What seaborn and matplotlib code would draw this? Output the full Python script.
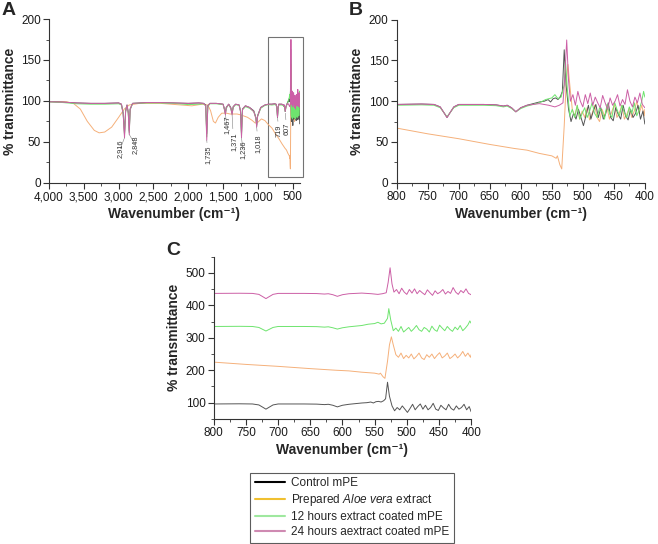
import matplotlib
matplotlib.use("Agg")
import matplotlib.pyplot as plt
import matplotlib.ticker as ticker
from matplotlib.patches import Rectangle
from matplotlib.lines import Line2D
import seaborn as sns
import numpy as np

#
# 01. Dados
#
# Região 4000-850 cm-1 (mPE: controle, 12 h, 24 h)
wn_alto = [4000, 3800, 3600, 3400, 3200, 3000, 2960, 2935, 2916, 2900, 2880,
           2862, 2848, 2835, 2800, 2600, 2400, 2200, 2000, 1850, 1780, 1750,
           1735, 1720, 1690, 1600, 1500, 1480, 1467, 1455, 1420, 1390, 1371,
           1355, 1320, 1270, 1250, 1236, 1222, 1180, 1120, 1060, 1030, 1018,
           1005, 960, 900, 850]
t_controle_alto = [99, 98.5, 97.5, 97, 97, 97.5, 96, 85, 60, 88, 95, 86, 63, 90,
                   97, 98, 98, 97.5, 97, 97.5, 97, 95, 60, 94, 97, 97, 96, 90,
                   85, 92, 96, 92, 85, 93, 96, 95, 88, 60, 90, 94, 92, 88, 80,
                   71, 82, 92, 95, 96]
t_12h_alto = [99, 98, 96.5, 96, 96, 96.5, 95, 84, 58, 87, 94, 85, 61, 89, 97,
              97.5, 97.5, 97, 95.5, 96, 96.5, 94, 56, 93, 96.5, 96.5, 95.5, 89,
              84, 91, 95.5, 91, 84, 92, 95.5, 94.5, 87, 57, 89, 93, 91, 87, 79,
              69, 81, 91, 94.5, 95.5]
t_24h_alto = [99, 98.5, 97.5, 97, 97, 97.5, 96, 84, 55, 87, 95, 85, 59, 90, 97,
              98, 98, 97.5, 97, 97.5, 97, 94, 52, 94, 97, 97, 96, 89, 83, 92,
              96, 91, 83, 93, 96, 95, 87, 55, 90, 94, 92, 87, 79, 68, 81, 92,
              95, 96]

# Extrato de Aloe vera, 4000-850 cm-1
wn_aloe_alto = [4000, 3750, 3650, 3550, 3450, 3350, 3280, 3200, 3100, 3000,
                2920, 2850, 2700, 2400, 2100, 1950, 1800, 1720, 1680, 1640,
                1610, 1570, 1520, 1450, 1400, 1300, 1250, 1150, 1080, 1040,
                1000, 950, 900, 850]
t_aloe_alto = [99, 99, 97, 90, 75, 64, 61, 62, 68, 80, 90, 95, 97, 97, 95, 94,
               96, 95, 88, 75, 73, 80, 85, 85, 84, 84, 83, 80, 76, 73, 74, 78,
               76, 71]

# Região 800-400 cm-1
wn_controle = [800, 760, 740, 730, 724, 719, 714, 708, 700, 660, 640, 628, 622,
               615, 608, 600, 590, 580, 570, 562, 556, 552, 548, 544, 540, 536,
               533, 530, 527, 523, 519, 515, 511, 507, 503, 499, 495, 491, 487,
               483, 479, 475, 471, 467, 463, 459, 455, 451, 447, 443, 439, 435,
               431, 427, 423, 419, 415, 411, 407, 403, 400]
t_controle = [96, 96.5, 96, 93, 86, 80, 86, 93, 96, 96, 95.5, 94, 95, 92, 87,
              92, 95, 97, 99, 100, 102, 99, 103, 104, 102, 106, 112, 163, 120,
              90, 75, 85, 78, 90, 80, 70, 82, 95, 78, 88, 96, 80, 92, 78, 85, 98,
              80, 76, 92, 84, 78, 95, 82, 77, 90, 80, 85, 95, 78, 88, 72]

wn_12h = [800, 760, 740, 730, 724, 719, 714, 708, 700, 660, 640, 628, 622, 615,
          608, 600, 590, 580, 570, 560, 550, 545, 540, 535, 530, 528, 525, 521,
          517, 513, 509, 505, 501, 497, 493, 489, 485, 481, 477, 473, 469, 465,
          461, 457, 453, 449, 445, 441, 437, 433, 429, 425, 421, 417, 413, 409,
          405, 402, 400]
t_12h = [95, 95.5, 95, 92, 86, 81, 86, 92, 95, 95, 94.5, 93, 94, 91, 87, 91, 94,
         96, 98, 102, 104, 108, 103, 105, 120, 150, 115, 82, 90, 80, 95, 78, 85,
         92, 80, 88, 98, 85, 80, 92, 87, 78, 96, 85, 80, 99, 90, 82, 95, 86, 80,
         93, 85, 98, 82, 90, 100, 112, 105]

wn_24h = [800, 760, 740, 730, 724, 719, 714, 708, 700, 660, 640, 628, 622, 615,
          608, 600, 590, 570, 555, 545, 538, 532, 529, 526, 523, 520, 516, 512,
          508, 504, 500, 496, 492, 488, 484, 480, 476, 472, 468, 464, 460, 456,
          452, 448, 444, 440, 436, 432, 428, 424, 420, 416, 412, 408, 404, 400]
t_24h = [96, 96.5, 96, 93, 86, 80, 86, 93, 96, 96, 95.5, 94, 95, 92, 87, 92,
         95, 97, 95, 93, 95, 98, 130, 175, 125, 100, 108, 95, 112, 100, 93, 108,
         97, 110, 95, 105, 98, 92, 107, 98, 90, 104, 95, 100, 108, 94, 102, 96,
         114, 100, 93, 105, 98, 110, 96, 92]

wn_aloe = [800, 750, 700, 650, 610, 590, 570, 550, 543, 541, 537, 534, 530, 527,
           524, 521, 517, 513, 509, 505, 501, 497, 493, 489, 485, 481, 477, 473,
           469, 465, 461, 457, 453, 449, 445, 441, 437, 433, 429, 425, 421, 417,
           413, 409, 405, 401, 400]
t_aloe = [67, 60, 54, 47, 42, 40, 36, 33, 30, 33, 22, 17, 70, 120, 145, 120, 90,
          82, 95, 78, 88, 80, 92, 77, 85, 95, 80, 75, 90, 82, 92, 78, 88, 96, 80,
          86, 95, 78, 84, 92, 80, 88, 100, 85, 95, 82, 90]

# Deslocamento vertical das curvas no painel C
deslocamento_C = [0, 158, 240, 341]

# Picos anotados no painel A: número de onda, fundo do pico, topo do texto
picos_wn = [2916, 2848, 1735, 1467, 1371, 1236, 1018, 719, 607]
picos_fundo = [55, 59, 52, 83, 83, 55, 68, 80, 85]
picos_texto = [53, 58, 45, 82, 62, 52, 59, 71, 73]
picos_label = ["2,916", "2,848", "1,735", "1,467", "1,371", "1,236", "1,018",
               "719", "607"]
picos_alinh = ["right", "left", "center", "center", "center", "center",
               "center", "center", "center"]

#
# 02. Tema
#
sns.set_theme(style="ticks")
plt.rcParams["font.family"] = ["Liberation Sans", "DejaVu Sans"]
plt.rcParams["mathtext.fontset"] = "custom"
plt.rcParams["mathtext.it"] = "Liberation Sans:italic"
plt.rcParams["mathtext.rm"] = "Liberation Sans"

cor_controle = "#555555"
cor_aloe = "#f5b07a"
cor_12h = "#6ee46e"
cor_24h = "#cc5fa6"
lw = 0.7

#
# 03. Figura
#
fig = plt.figure(figsize=(6.58, 5.44), dpi=100)
axA = fig.add_axes([0.0745, 0.664, 0.381, 0.301])
axB = fig.add_axes([0.603, 0.664, 0.377, 0.300])
axC = fig.add_axes([0.325, 0.230, 0.391, 0.298])

# Painel A: espectro completo
wnA_ctrl = wn_alto + wn_controle
wnA_12 = wn_alto + wn_12h
wnA_24 = wn_alto + wn_24h
wnA_aloe = wn_aloe_alto + wn_aloe
sns.lineplot(x=wnA_aloe, y=t_aloe_alto + t_aloe, ax=axA, color=cor_aloe, lw=lw)
sns.lineplot(x=wnA_ctrl, y=t_controle_alto + t_controle, ax=axA, color=cor_controle, lw=lw)
sns.lineplot(x=wnA_12, y=t_12h_alto + t_12h, ax=axA, color=cor_12h, lw=lw)
sns.lineplot(x=wnA_24, y=t_24h_alto + t_24h, ax=axA, color=cor_24h, lw=lw)

desloc_txt = {"right": 10, "left": -35, "center": -20}
for wn, fundo, topo, txt, al in zip(picos_wn, picos_fundo, picos_texto,
                                    picos_label, picos_alinh):
    axA.annotate(txt, xy=(wn, fundo), xytext=(wn + desloc_txt[al], topo),
                 rotation=90, ha=al, va="top", fontsize=5.3, color="0.2",
                 arrowprops=dict(arrowstyle="-", lw=0.4, color="0.5",
                                 shrinkA=0, shrinkB=0))

axA.add_patch(Rectangle((360, 7), 490, 171, fill=False, edgecolor="0.45",
                        lw=0.8, clip_on=False))

# Painel B: zoom 800-400
sns.lineplot(x=wn_aloe, y=t_aloe, ax=axB, color=cor_aloe, lw=lw)
sns.lineplot(x=wn_controle, y=t_controle, ax=axB, color=cor_controle, lw=lw)
sns.lineplot(x=wn_12h, y=t_12h, ax=axB, color=cor_12h, lw=lw)
sns.lineplot(x=wn_24h, y=t_24h, ax=axB, color=cor_24h, lw=lw)

# Painel C: curvas deslocadas
series_C = [(wn_controle, t_controle, cor_controle),
            (wn_aloe, t_aloe, cor_aloe),
            (wn_12h, t_12h, cor_12h),
            (wn_24h, t_24h, cor_24h)]
for (wn, t, cor), d in zip(series_C, deslocamento_C):
    sns.lineplot(x=wn, y=np.array(t) + d, ax=axC, color=cor, lw=lw)

#
# 04. Eixos
#
label_x = "Wavenumber (cm\u207b\u00b9)"
label_y = "% transmittance"

for ax in (axA, axB, axC):
    sns.despine(ax=ax)
    for s in ("left", "bottom"):
        ax.spines[s].set_linewidth(0.8)
        ax.spines[s].set_color("0.2")
    ax.tick_params(which="major", direction="out", length=4, width=0.8,
                   labelsize=8.5, color="0.2", labelcolor="0.1", pad=2)
    ax.tick_params(which="minor", direction="out", length=2, width=0.6,
                   color="0.2")
    ax.set_xlabel(label_x, fontsize=10, fontweight="bold", labelpad=3)
    ax.set_ylabel(label_y, fontsize=10, fontweight="bold", labelpad=3)

axA.set_xlim(4000, 400)
axA.set_ylim(0, 200)
axA.xaxis.set_major_locator(ticker.MultipleLocator(500))
axA.xaxis.set_minor_locator(ticker.MultipleLocator(250))
axA.xaxis.set_major_formatter(ticker.FuncFormatter(lambda v, p: f"{v:,.0f}"))
axA.yaxis.set_major_locator(ticker.MultipleLocator(50))
axA.yaxis.set_minor_locator(ticker.MultipleLocator(25))

axB.set_xlim(800, 400)
axB.set_ylim(0, 200)
axB.xaxis.set_major_locator(ticker.MultipleLocator(50))
axB.xaxis.set_minor_locator(ticker.MultipleLocator(25))
axB.yaxis.set_major_locator(ticker.MultipleLocator(50))
axB.yaxis.set_minor_locator(ticker.MultipleLocator(25))

axC.set_xlim(800, 400)
axC.set_ylim(50, 550)
axC.xaxis.set_major_locator(ticker.MultipleLocator(50))
axC.xaxis.set_minor_locator(ticker.MultipleLocator(25))
axC.yaxis.set_major_locator(ticker.MultipleLocator(100))
axC.yaxis.set_minor_locator(ticker.MultipleLocator(50))

#
# 05. Letras dos painéis
#
fig.text(0.003, 0.997, "A", fontsize=14, fontweight="bold", va="top")
fig.text(0.530, 0.997, "B", fontsize=14, fontweight="bold", va="top")
fig.text(0.253, 0.555, "C", fontsize=14, fontweight="bold", va="top")

#
# 06. Legenda
#
handles = [Line2D([], [], color="black", lw=1.5),
           Line2D([], [], color="#f0c030", lw=1.5),
           Line2D([], [], color="#9fe89f", lw=1.5),
           Line2D([], [], color="#cf8ab2", lw=1.5)]
labels = ["Control mPE",
          "Prepared $\\mathit{Aloe\\ vera}$ extract",
          "12 hours extract coated mPE",
          "24 hours aextract coated mPE"]
leg = fig.legend(handles, labels, loc="upper left",
                 bbox_to_anchor=(0.380, 0.131), fontsize=8.5, frameon=True,
                 fancybox=False, edgecolor="0.2", handlelength=2.6,
                 handletextpad=0.5, labelspacing=0.25, borderpad=0.4,
                 borderaxespad=0)
leg.get_frame().set_linewidth(0.8)

#
# 07. Salvando
#
fig.savefig("out.png", dpi=100)
